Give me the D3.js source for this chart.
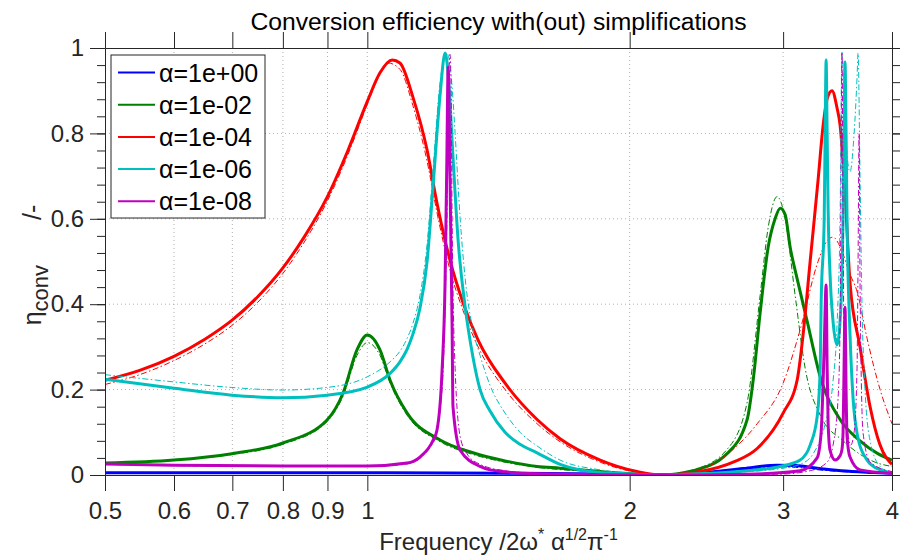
<!DOCTYPE html>
<html>
<head>
<meta charset="utf-8">
<script src="https://cdn.jsdelivr.net/npm/d3@7"></script>
<style>
body { margin: 0; background: #fff; }
svg text { font-family: "Liberation Sans", Arial, Helvetica, sans-serif; }
</style>
</head>
<body>
<div id="chart"></div>
<script>
// frequency / efficiency values, [f, eta]
var alphas = ["1e+00", "1e-02", "1e-04", "1e-06", "1e-08"]
var colors = ["#0000ff", "#008000", "#ff0000", "#00bfbf", "#bf00bf"]
var freqTicks = [0.5, 0.6, 0.7, 0.8, 0.9, 1, 2, 3, 4]
var etaTicks = [0, 0.2, 0.4, 0.6, 0.8, 1]

// alpha = 1e+00
var blueFull = [[0.5,.005],[1.0,.005],[1.5,.004],[2.0,.002],[2.2,.001],[2.4,.004],[2.7,.015],[2.95,.023],[3.1,.022],[3.3,.015],[3.5,.01],[3.8,.006],[4.0,.004]]
var blueSimple = [[0.5,.004],[1.0,.004],[1.5,.003],[2.0,.002],[2.2,.001],[2.4,.003],[2.7,.012],[2.95,.019],[3.1,.018],[3.3,.012],[3.5,.008],[3.8,.005],[4.0,.003]]

// alpha = 1e-02
var greenFull = [[0.5,.028],[0.6,.035],[0.699,.05],[0.8,.075],[0.899,.129],[0.938,.192],[0.973,.293],[1.0,.328],[1.034,.293],[1.062,.222],[1.111,.145],[1.212,.082],[1.322,.052],[1.439,.033],[1.566,.02],[1.664,.016],[1.85,.008],[2.039,.002],[2.167,0],[2.365,.01],[2.587,.05],[2.728,.13],[2.771,.22],[2.823,.379],[2.884,.534],[2.937,.60],[2.977,.625],[3.016,.61],[3.056,.534],[3.113,.46],[3.197,.36],[3.309,.23],[3.487,.13],[3.676,.08],[3.853,.05],[4.0,.035]]
var greenSimple = [[0.5,.028],[0.6,.035],[0.699,.048],[0.8,.072],[0.899,.125],[0.938,.185],[0.973,.28],[1.0,.31],[1.034,.28],[1.062,.215],[1.111,.14],[1.212,.078],[1.322,.048],[1.439,.03],[1.566,.018],[1.85,.007],[2.039,.002],[2.167,0],[2.365,.012],[2.587,.06],[2.728,.17],[2.823,.42],[2.884,.58],[2.953,.652],[3.016,.60],[3.097,.42],[3.18,.25],[3.309,.14],[3.515,.08],[3.825,.03],[4.0,.02]]

// alpha = 1e-04
var redFull = [[0.5,.222],[0.548,.245],[0.6,.278],[0.651,.318],[0.699,.362],[0.749,.418],[0.8,.485],[0.848,.56],[0.899,.65],[0.95,.76],[1.0,.875],[1.034,.942],[1.068,.972],[1.09,.965],[1.128,.885],[1.171,.761],[1.202,.637],[1.244,.503],[1.288,.403],[1.34,.316],[1.439,.215],[1.566,.13],[1.664,.085],[1.85,.035],[2.039,.008],[2.167,0],[2.285,.002],[2.409,.008],[2.629,.03],[2.801,.062],[3.0,.145],[3.113,.222],[3.163,.33],[3.222,.50],[3.29,.69],[3.335,.82],[3.375,.885],[3.414,.90],[3.459,.86],[3.487,.82],[3.533,.66],[3.58,.45],[3.676,.30],[3.775,.16],[3.876,.07],[4.0,.025]]
var redSimple = [[0.5,.212],[0.548,.235],[0.6,.268],[0.651,.307],[0.699,.35],[0.749,.405],[0.8,.472],[0.848,.548],[0.899,.64],[0.95,.75],[1.0,.868],[1.034,.94],[1.056,.965],[1.09,.95],[1.128,.865],[1.171,.735],[1.202,.615],[1.244,.48],[1.288,.385],[1.34,.30],[1.439,.20],[1.566,.12],[1.664,.078],[1.85,.03],[2.039,.006],[2.167,0],[2.285,.003],[2.409,.012],[2.629,.06],[2.801,.12],[3.0,.215],[3.138,.34],[3.29,.50],[3.375,.55],[3.423,.557],[3.487,.535],[3.58,.47],[3.647,.43],[3.745,.32],[3.876,.20],[4.0,.12]]

// alpha = 1e-06
var cyanFull = [[0.5,.224],[0.6,.203],[0.699,.187],[0.8,.181],[0.899,.187],[1.0,.206],[1.062,.238],[1.09,.265],[1.111,.295],[1.128,.33],[1.149,.39],[1.171,.50],[1.19,.68],[1.212,.89],[1.228,.988],[1.238,.94],[1.254,.745],[1.271,.55],[1.295,.393],[1.322,.276],[1.347,.20],[1.383,.15],[1.439,.10],[1.497,.072],[1.566,.052],[1.664,.025],[1.85,.006],[2.039,.002],[2.167,0],[2.409,.003],[2.728,.01],[2.977,.02],[3.138,.035],[3.222,.07],[3.282,.136],[3.309,.25],[3.317,.40],[3.344,.60],[3.353,.82],[3.361,.972],[3.37,.80],[3.379,.62],[3.396,.47],[3.423,.36],[3.459,.305],[3.487,.36],[3.505,.47],[3.515,.60],[3.524,.80],[3.533,.967],[3.543,.80],[3.552,.60],[3.58,.33],[3.609,.18],[3.647,.098],[3.745,.035],[3.876,.012],[4.0,.005]]
var cyanSimple = [[0.5,.235],[0.6,.218],[0.699,.205],[0.8,.199],[0.899,.205],[1.0,.23],[1.062,.265],[1.09,.29],[1.111,.32],[1.128,.355],[1.149,.42],[1.171,.54],[1.19,.72],[1.212,.92],[1.234,.988],[1.244,.96],[1.254,.88],[1.261,.80],[1.278,.60],[1.295,.46],[1.322,.34],[1.347,.28],[1.383,.21],[1.439,.145],[1.497,.10],[1.566,.068],[1.664,.035],[1.85,.012],[2.039,.003],[2.167,0],[2.409,.003],[2.728,.008],[2.977,.015],[3.138,.025],[3.248,.05],[3.353,.12],[3.423,.22],[3.459,.35],[3.487,.6],[3.505,.99],[3.524,.88],[3.543,.78],[3.58,.71],[3.619,.80],[3.647,.93],[3.657,.988],[3.676,.70],[3.695,.40],[3.725,.20],[3.775,.08],[3.876,.02],[4.0,.005]]

// alpha = 1e-08
var magentaFull = [[0.5,.026],[0.6,.023],[0.8,.021],[1.0,.021],[1.111,.028],[1.149,.042],[1.19,.082],[1.202,.105],[1.218,.24],[1.228,.45],[1.234,.75],[1.238,.955],[1.244,.70],[1.251,.35],[1.254,.16],[1.278,.058],[1.347,.02],[1.383,.012],[1.566,.003],[2.167,0],[2.728,.002],[3.138,.01],[3.282,.04],[3.317,.1],[3.344,.3],[3.361,.445],[3.37,.25],[3.379,.12],[3.396,.058],[3.441,.035],[3.487,.045],[3.505,.06],[3.515,.1],[3.524,.25],[3.533,.393],[3.543,.2],[3.552,.09],[3.58,.042],[3.676,.012],[4.0,.004]]
var magentaSimple = [[0.5,.025],[0.6,.022],[0.8,.02],[1.0,.02],[1.111,.026],[1.19,.075],[1.218,.2],[1.234,.6],[1.241,.95],[1.244,.985],[1.248,.9],[1.251,.6],[1.261,.25],[1.278,.09],[1.301,.05],[1.347,.025],[1.439,.01],[1.566,.004],[2.167,0],[2.977,.002],[3.222,.01],[3.369,.03],[3.423,.07],[3.469,.18],[3.487,.35],[3.505,.99],[3.515,.6],[3.524,.3],[3.552,.12],[3.586,.07],[3.619,.1],[3.647,.25],[3.657,.5],[3.667,.80],[3.676,.45],[3.705,.1],[3.775,.03],[4.0,.008]]

var fullCurves = [blueFull, greenFull, redFull, cyanFull, magentaFull]
var simpleCurves = [blueSimple, greenSimple, redSimple, cyanSimple, magentaSimple]

var width = 900, height = 557
var plotLeft = 105, plotRight = 892, plotTop = 48, plotBottom = 475
var axisColor = "#262626"

var svg = d3.select("#chart").append("svg").attr("width", width).attr("height", height)

var x = d3.scaleLog().domain([0.5, 4]).range([plotLeft, plotRight])
var y = d3.scaleLinear().domain([0, 1]).range([plotBottom, plotTop])

// grid
var grid = svg.append("g").attr("stroke", "#b0b0b0").attr("stroke-width", 1).attr("stroke-dasharray", "1,3")
grid.selectAll(".gx").data(freqTicks.slice(1, -1)).enter().append("line")
    .attr("x1", function(d){ return x(d) }).attr("x2", function(d){ return x(d) })
    .attr("y1", plotTop).attr("y2", plotBottom)
grid.selectAll(".gy").data(etaTicks.slice(1, -1)).enter().append("line")
    .attr("x1", plotLeft).attr("x2", plotRight)
    .attr("y1", function(d){ return y(d) }).attr("y2", function(d){ return y(d) })

// curves
svg.append("clipPath").attr("id", "plotclip").append("rect")
    .attr("x", plotLeft).attr("y", plotTop - 2).attr("width", plotRight - plotLeft).attr("height", plotBottom - plotTop + 2)
var line = d3.line()
    .x(function(d){ return x(d[0]) })
    .y(function(d){ return y(d[1]) })
    .curve(d3.curveMonotoneX)
var plot = svg.append("g").attr("clip-path", "url(#plotclip)")
for (var i = 0; i < alphas.length; i++) {
    plot.append("path").attr("d", line(fullCurves[i]))
        .attr("fill", "none").attr("stroke", colors[i]).attr("stroke-width", 3)
        .attr("stroke-linejoin", "round")
    plot.append("path").attr("d", line(simpleCurves[i]))
        .attr("fill", "none").attr("stroke", colors[i]).attr("stroke-width", 1)
        .attr("stroke-dasharray", "6,2.5,1.5,2.5")
}

// axes
function styleAxis(g) {
    g.select(".domain").attr("stroke", axisColor)
    g.selectAll(".tick line").attr("stroke", axisColor)
    g.selectAll("text").attr("fill", axisColor).style("font-size", "24px")
        .style("font-family", "'Liberation Sans', Arial, sans-serif")
}
var minorEta = d3.range(0, 1.0001, 0.04)

svg.append("g").attr("transform", "translate(0," + plotBottom + ")")
    .call(d3.axisBottom(x).tickValues(freqTicks).tickFormat(d3.format("")).tickSize(16).tickSizeOuter(0).tickPadding(11))
    .call(styleAxis)
svg.append("g").attr("transform", "translate(0," + plotTop + ")")
    .call(d3.axisTop(x).tickValues(freqTicks).tickFormat("").tickSize(16).tickSizeOuter(0))
    .call(styleAxis)
svg.append("g").attr("transform", "translate(" + plotLeft + ",0)")
    .call(d3.axisLeft(y).tickValues(minorEta).tickFormat("").tickSize(8).tickSizeOuter(0))
    .call(styleAxis)
svg.append("g").attr("transform", "translate(" + plotLeft + ",0)")
    .call(d3.axisLeft(y).tickValues(etaTicks).tickFormat(d3.format("")).tickSize(15).tickSizeOuter(0).tickPadding(6))
    .call(styleAxis)
svg.append("g").attr("transform", "translate(" + plotRight + ",0)")
    .call(d3.axisRight(y).tickValues(minorEta).tickFormat("").tickSize(8).tickSizeOuter(0))
    .call(styleAxis)
svg.append("g").attr("transform", "translate(" + plotRight + ",0)")
    .call(d3.axisRight(y).tickValues(etaTicks).tickFormat("").tickSize(15).tickSizeOuter(0))
    .call(styleAxis)

// title and labels
svg.append("text").attr("x", (plotLeft + plotRight) / 2).attr("y", 30).attr("text-anchor", "middle")
    .style("font-size", "24.7px").attr("fill", "#000")
    .text("Conversion efficiency with(out) simplifications")

var xl = svg.append("text").attr("x", (plotLeft + plotRight) / 2).attr("y", 550).attr("text-anchor", "middle")
    .style("font-size", "24px").attr("fill", axisColor)
xl.append("tspan").text("Frequency /2ω")
xl.append("tspan").attr("dy", -10).style("font-size", "16px").text("*")
xl.append("tspan").attr("dy", 10).text(" α")
xl.append("tspan").attr("dy", -10).style("font-size", "16px").text("1/2")
xl.append("tspan").attr("dy", 10).text("π")
xl.append("tspan").attr("dy", -10).style("font-size", "16px").text("-1")

var yl = svg.append("text").attr("transform", "translate(41,265) rotate(-90)").attr("text-anchor", "middle")
    .style("font-size", "25px").attr("fill", axisColor)
yl.append("tspan").text("η")
yl.append("tspan").attr("dy", 7).style("font-size", "22px").text("conv")
yl.append("tspan").attr("dy", -7).attr("dx", 38).text(" /-")

// legend
var legend = svg.append("g")
legend.append("rect").attr("x", 111).attr("y", 55).attr("width", 154).attr("height", 163)
    .attr("fill", "#fff").attr("stroke", axisColor).attr("stroke-width", 1)
var rows = legend.selectAll(".row").data(alphas).enter().append("g")
    .attr("transform", function(d, i){ return "translate(0," + (72.5 + i * 32.2) + ")" })
rows.append("line").attr("x1", 118).attr("x2", 155).attr("y1", 0).attr("y2", 0)
    .attr("stroke", function(d, i){ return colors[i] }).attr("stroke-width", 2)
rows.append("text").attr("x", 159).attr("y", 0).attr("dy", "0.36em")
    .style("font-size", "25px").attr("fill", "#000")
    .text(function(d){ return "α=" + d })
</script>
</body>
</html>
